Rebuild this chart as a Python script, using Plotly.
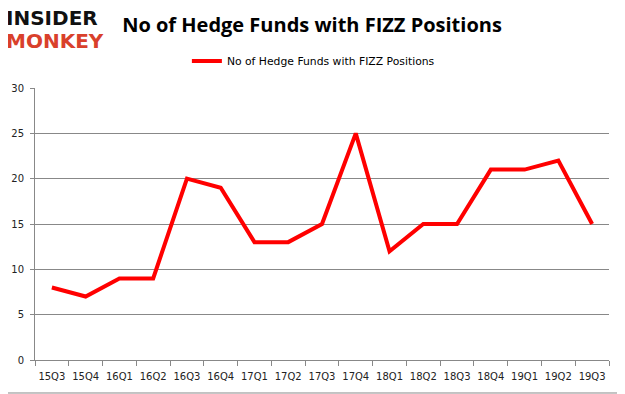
import plotly.graph_objects as go

quarters = ["15Q3","15Q4","16Q1","16Q2","16Q3","16Q4","17Q1","17Q2","17Q3","17Q4",
            "18Q1","18Q2","18Q3","18Q4","19Q1","19Q2","19Q3"]
funds = [8, 7, 9, 9, 20, 19, 13, 13, 15, 25, 12, 15, 15, 21, 21, 22, 15]
series_name = "No of Hedge Funds with FIZZ Positions"
y_ticks = [0, 5, 10, 15, 20, 25, 30]

fig = go.Figure()
fig.add_trace(go.Scatter(x=quarters, y=funds, mode="lines", name=series_name,
                         line=dict(color="#ff0000", width=4)))

fig.update_layout(
    width=625, height=394,
    margin=dict(l=27, r=24, t=80, b=42, autoexpand=False),
    paper_bgcolor="white", plot_bgcolor="white",
    showlegend=True,
    legend=dict(orientation="h", x=0.485, xanchor="center", y=1.099, yanchor="middle",
                font=dict(family="DejaVu Sans", size=10.8, color="#000"),
                itemwidth=30),
    title=dict(text="<b>No of Hedge Funds with FIZZ Positions</b>",
               x=0.4864, xanchor="center", xref="container", y=0.957, yanchor="middle",
               font=dict(family="Open Sans", size=20, color="#000")),
    font=dict(family="DejaVu Sans", size=10, color="#000"),
)
fig.update_xaxes(type="category", range=[-0.5, 16.5], tickson="boundaries", ticks="outside",
                 ticklen=5, tickangle=0, automargin=False, ticklabelstandoff=7,
                 tickcolor="#888", showline=True, linecolor="#888", showgrid=False,
                 tickfont=dict(size=10, family="DejaVu Sans", color="#222"))
fig.update_yaxes(range=[0, 30], tickvals=y_ticks, ticks="outside", ticklen=4, automargin=False,
                 ticklabelstandoff=4,
                 tickcolor="#888", showline=True, linecolor="#888", gridcolor="#888",
                 gridwidth=1, zeroline=False,
                 tickfont=dict(size=10, family="DejaVu Sans", color="#222"))

# logo
fig.add_annotation(text="<b>INSIDER</b>", xref="paper", yref="paper", x=-0.0523, y=1.257,
                   xanchor="left", yanchor="middle", showarrow=False, borderpad=0,
                   font=dict(family="DejaVu Sans", size=20, color="#111"))
fig.add_annotation(text="<b>MONKEY</b>", xref="paper", yref="paper", x=-0.0523, y=1.174,
                   xanchor="left", yanchor="middle", showarrow=False, borderpad=0,
                   font=dict(family="DejaVu Sans", size=20, color="#d9402b"))

# outer frame
fig.add_shape(type="rect", xref="paper", yref="paper", x0=-0.0627, x1=1.0261, y0=-0.1213, y1=1.327,
              line=dict(color="#888", width=1))

fig.write_html("out.html")
